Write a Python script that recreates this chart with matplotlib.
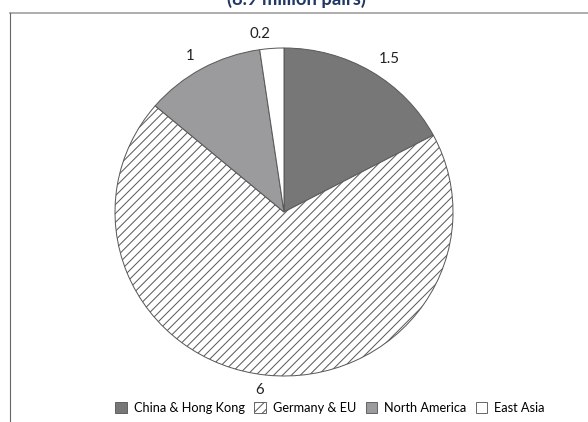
import matplotlib.pyplot as plt
from matplotlib.lines import Line2D
from matplotlib.patches import Patch

plt.rcParams['font.family'] = ['Lato', 'DejaVu Sans']
plt.rcParams['hatch.linewidth'] = 0.9

regions = ['China & Hong Kong', 'Germany & EU', 'North America', 'East Asia']
pairs = [1.5, 6, 1, 0.2]
value_labels = ['1.5', '6', '1', '0.2']
colors = ['#777777', 'white', '#9b9b9d', 'white']
hatches = ['', '///', '', '']
title = '(8.9 million pairs)'

W, H, DPI = 588, 422, 80
fig = plt.figure(figsize=(W / DPI, H / DPI), dpi=DPI)

# pie sits in a slightly squashed box, like the original
ax = fig.add_axes([115 / W, (H - 376) / H, 338 / W, 328 / H])
wedges, texts = ax.pie(pairs, labels=value_labels, colors=colors,
                       startangle=90, counterclock=False, labeldistance=1.09,
                       wedgeprops=dict(edgecolor='#595959', linewidth=0.9),
                       textprops=dict(fontsize=13.5, color='#222222'))
for w, h in zip(wedges, hatches):
    w.set_hatch(h)
ax.set_aspect('auto')
ax.set_xlim(-1, 1)
ax.set_ylim(-1, 1)

# chart frame (top + left edges visible in the crop)
fig.add_artist(Line2D([10 / W, 1], [1 - 13 / H, 1 - 13 / H], color='#a6a6a6', lw=1.6))
fig.add_artist(Line2D([10 / W, 10 / W], [0, 1 - 13 / H], color='#666666', lw=1.0))

# title is clipped by the top edge in the original too
fig.text(296 / W, 1 - 5 / H, title, ha='center', va='baseline',
         fontsize=16.5, fontweight='bold', color='#1f3864')

handles = [Patch(facecolor=c, edgecolor='#595959', hatch=h, linewidth=0.8)
           for c, h in zip(colors, hatches)]
fig.legend(handles, regions, loc='center', bbox_to_anchor=(330 / W, 1 - 408 / H),
           ncol=4, frameon=False, fontsize=11.5, handlelength=0.9, handleheight=0.9,
           handletextpad=0.55, columnspacing=0.75)

fig.savefig('out.png', dpi=DPI)
